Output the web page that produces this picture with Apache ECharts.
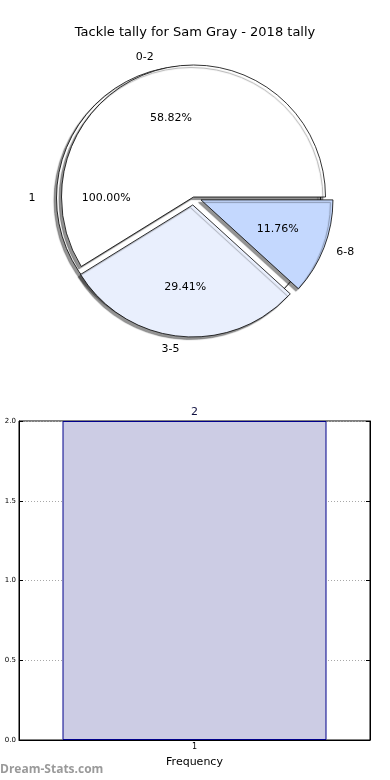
<!DOCTYPE html>
<html><head><meta charset="utf-8">
<script src="https://cdn.jsdelivr.net/npm/echarts@6/dist/echarts.min.js"></script>
<style>html,body{margin:0;padding:0;background:#fff}#c{width:390px;height:780px}</style>
</head><body><div id="c"></div>
<script>
const titleText = 'Tackle tally for Sam Gray - 2018 tally';
const pieNames = ['0-2', '3-5', '6-8'];
const pieValues = [10, 5, 2];
const pieExploded = [false, true, true];
const pieColors = ['#ffffff', '#e9effd', '#c4d8fe'];
const wholeNames = ['1'];
const wholeValues = [2];
const barCategories = [1];
const barValues = [2];
const xAxisName = 'Frequency';
const watermark = 'Dream-Stats.com';

const FONT = 'DejaVu Sans';
const R = 132;
const C = [193.5, 197];
const C1 = [188.5, 198];

const sumOf = a => a.reduce((s, v) => s + v, 0);
const mainData = pieNames.map((n, i) => ({name: n, value: pieValues[i], selected: pieExploded[i], itemStyle: {color: pieColors[i]}}));
const pctData = pieNames.map((n, i) => ({name: n, value: pieValues[i], selected: pieExploded[i]}));
const wholeData = wholeNames.map((n, i) => ({name: n, value: wholeValues[i]}));
const pctFmt = total => p => (p.value / total * 100).toFixed(2) + '%';
const shadow = {shadowColor: 'rgba(0,0,0,0.42)', shadowBlur: 1, shadowOffsetX: -2.5, shadowOffsetY: 2.5};

const chart = echarts.init(document.getElementById('c'), null, {renderer: 'canvas'});
chart.setOption({
  animation: false,
  backgroundColor: '#fff',
  title: {text: titleText, left: 'center', top: 21, textStyle: {fontFamily: FONT, fontSize: 13, fontWeight: 'normal', color: '#000'}},
  graphic: [{type: 'text', left: 0, top: 764, style: {text: watermark, fontFamily: 'Open Sans', fontSize: 12, fontWeight: 'bold', fill: '#9a9a9a'}}],
  grid: {left: 19, right: 20, top: 421, bottom: 40, show: true, borderColor: '#000', borderWidth: 1, backgroundColor: 'transparent'},
  xAxis: {
    type: 'value', min: 0, max: 2, interval: 1,
    name: xAxisName, nameLocation: 'middle', nameGap: 17,
    nameTextStyle: {fontFamily: FONT, fontSize: 11, color: '#000'},
    axisLine: {show: true, lineStyle: {color: '#000'}},
    axisTick: {show: true, inside: true, length: 4, lineStyle: {color: '#000'}},
    axisLabel: {fontFamily: FONT, fontSize: 8, color: '#000', margin: 3, formatter: v => barCategories.includes(v) ? String(v) : ''},
    splitLine: {show: true, lineStyle: {color: '#a8a8a8', type: [1, 2], width: 1}}
  },
  yAxis: [{
    type: 'value', min: 0, max: 2, interval: 0.5,
    axisLine: {show: true, lineStyle: {color: '#000'}},
    axisTick: {show: true, inside: true, length: 4, lineStyle: {color: '#000'}},
    axisLabel: {fontFamily: FONT, fontSize: 7, color: '#000', margin: 3, formatter: v => v.toFixed(1)},
    splitLine: {show: true, lineStyle: {color: '#a8a8a8', type: [1, 2], width: 1}}
  }, {
    type: 'value', min: 0, max: 2, interval: 0.5, position: 'right',
    axisLine: {show: true, lineStyle: {color: '#000'}},
    axisTick: {show: true, inside: true, length: 4, lineStyle: {color: '#000'}},
    axisLabel: {show: false}, splitLine: {show: false}
  }],
  series: [
    {
      type: 'pie', z: 1, silent: true, center: C1, radius: R, startAngle: 0, clockwise: false,
      avoidLabelOverlap: false, emphasis: {disabled: true},
      itemStyle: Object.assign({color: '#fff', borderColor: '#000', borderWidth: 0.8}, shadow),
      label: {show: true, position: 'outside', formatter: '{b}', fontFamily: FONT, fontSize: 11, color: '#000', distanceToLabelLine: 0},
      labelLine: {show: false, length: 21, length2: 0},
      data: wholeData
    },
    {
      type: 'pie', z: 3, silent: true, center: C, radius: R, startAngle: 0, clockwise: false,
      selectedMode: 'multiple', selectedOffset: 8,
      avoidLabelOverlap: false, emphasis: {disabled: true},
      itemStyle: Object.assign({borderColor: '#000', borderWidth: 0.8}, shadow),
      label: {show: true, position: 'outside', formatter: '{b}', fontFamily: FONT, fontSize: 11, color: '#000', distanceToLabelLine: 0},
      labelLine: {show: false, length: 13, length2: 0},
      data: mainData
    },
    {
      type: 'pie', z: 5, silent: true, center: C1, radius: R * 1.2, startAngle: 0, clockwise: false,
      avoidLabelOverlap: false, emphasis: {disabled: true},
      itemStyle: {color: 'rgba(0,0,0,0)', borderWidth: 0},
      label: {show: true, position: 'inside', formatter: pctFmt(sumOf(wholeValues)), fontFamily: FONT, fontSize: 11, color: '#000'},
      labelLine: {show: false},
      data: wholeData.map(d => ({...d}))
    },
    {
      type: 'pie', z: 5, silent: true, center: C, radius: R * 1.2, startAngle: 0, clockwise: false,
      selectedMode: 'multiple', selectedOffset: 8,
      avoidLabelOverlap: false, emphasis: {disabled: true},
      itemStyle: {color: 'rgba(0,0,0,0)', borderWidth: 0},
      label: {show: true, position: 'inside', formatter: pctFmt(sumOf(pieValues)), fontFamily: FONT, fontSize: 11, color: '#000'},
      labelLine: {show: false},
      data: pctData
    },
    {
      type: 'bar', xAxisIndex: 0, yAxisIndex: 0, barWidth: 264,
      itemStyle: {color: '#cccce4', borderColor: '#00008b', borderWidth: 1},
      label: {show: true, position: 'top', distance: 3, fontFamily: FONT, fontSize: 11, color: '#101040'},
      data: barCategories.map((c, i) => [c, barValues[i]])
    }
  ]
});
</script></body></html>
